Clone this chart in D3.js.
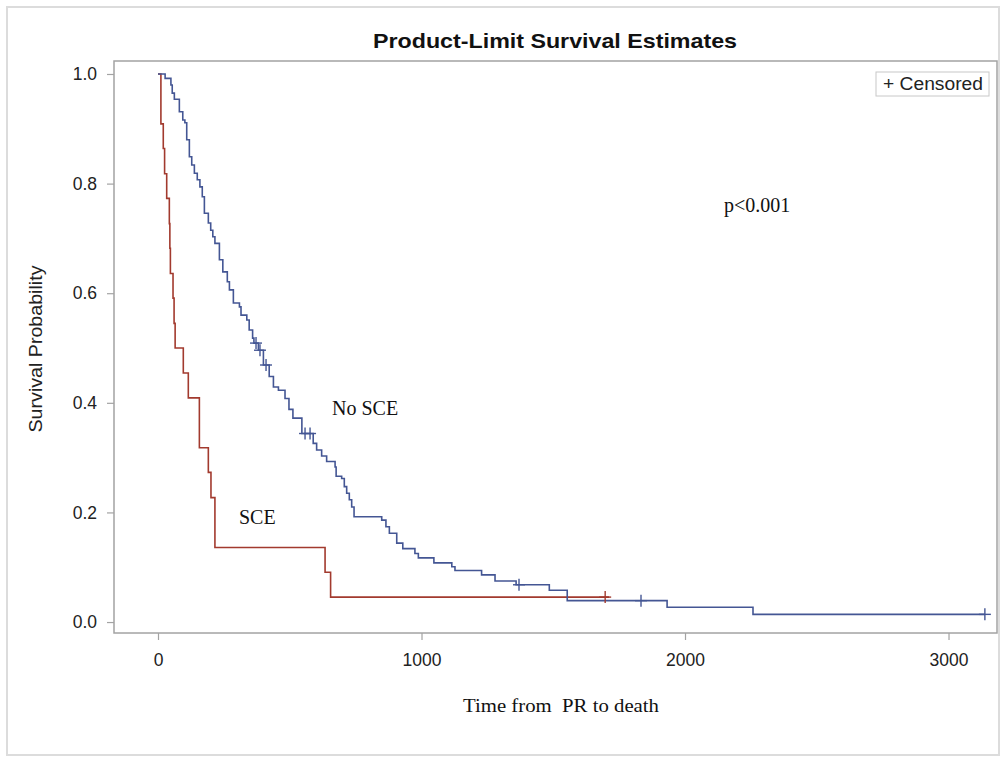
<!DOCTYPE html>
<html><head><meta charset="utf-8">
<script src="https://cdn.jsdelivr.net/npm/d3@7"></script>
<style>
html,body{margin:0;padding:0;background:#fff;}
svg{display:block;}
</style></head>
<body>
<script>
// ---- data ----
const sceTime = [0, 11, 20, 25, 33, 43, 45, 47, 57, 61, 65, 96, 115, 157, 191, 201, 216, 634, 655];
const sceSurv = [1, 0.909, 0.864, 0.818, 0.773, 0.727, 0.682, 0.636, 0.591, 0.545, 0.5, 0.4545, 0.409, 0.318, 0.273, 0.227, 0.136, 0.0909, 0.0455];
const sceEnd = 1712;
const sceCensored = [1697];

const noSceTime = [0, 27, 49, 54, 62, 81, 94, 102, 109, 119, 128, 138, 149, 159, 168, 176, 191, 200, 208, 216, 233,
  246, 263, 271, 286, 309, 315, 337, 346, 359, 364, 381, 400, 422, 438, 457, 482, 497, 512, 546,
  589, 602, 621, 640, 672, 676, 697, 707, 716, 726, 735, 744, 849, 865, 878, 906, 929, 975, 988,
  1047, 1115, 1127, 1228, 1279, 1359, 1485, 1553, 1932, 2258];
const noSceSurv = [1, 0.992, 0.980, 0.965, 0.954, 0.931, 0.916, 0.911, 0.880, 0.849, 0.834, 0.819, 0.807, 0.794, 0.776, 0.746, 0.728, 0.715, 0.703, 0.691, 0.661,
  0.639, 0.621, 0.606, 0.582, 0.575, 0.560, 0.551, 0.533, 0.518, 0.509, 0.496, 0.469, 0.448, 0.429, 0.423, 0.408, 0.388, 0.372, 0.344,
  0.326, 0.314, 0.303, 0.293, 0.283, 0.266, 0.262, 0.247, 0.235, 0.223, 0.210, 0.192, 0.186, 0.174, 0.162, 0.144, 0.134, 0.125, 0.117,
  0.108, 0.101, 0.094, 0.086, 0.075, 0.068, 0.058, 0.039, 0.027, 0.014];
const noSceEnd = 3138;
const noSceCensored = [372, 387, 410, 558, 577, 1370, 1833, 3138];

const xTicks = [0, 1000, 2000, 3000];
const yTicks = [0.0, 0.2, 0.4, 0.6, 0.8, 1.0];
const titleText = "Product-Limit Survival Estimates";
const xLabel = "Time from  PR to death";
const yLabel = "Survival Probability";
const legendText = "+ Censored";
const pText = "p<0.001";
const labelNoSce = "No SCE";
const labelSce = "SCE";

// ---- layout ----
const W = 1002, H = 759;
const box = {left: 114, top: 61, right: 997, bottom: 633};
const blue = "#445694", red = "#A23A2E";
const sans = "'Liberation Sans', Arial, sans-serif";
const serif = "'Liberation Serif', 'Times New Roman', serif";

const svg = d3.select("body").append("svg").attr("width", W).attr("height", H);

// outer frame
svg.append("rect").attr("x", 7).attr("y", 7).attr("width", 992).attr("height", 748)
  .attr("fill", "none").attr("stroke", "#dcdcdc").attr("stroke-width", 2);

const x = d3.scaleLinear().domain([-167, 3184]).range([box.left, box.right]);
const y = d3.scaleLinear().domain([-0.020, 1.0237]).range([box.bottom, box.top]);

// plot frame
svg.append("rect").attr("x", box.left).attr("y", box.top)
  .attr("width", box.right - box.left).attr("height", box.bottom - box.top)
  .attr("fill", "none").attr("stroke", "#a3a3a3").attr("stroke-width", 1.5);

// axes
const xAxis = d3.axisBottom(x).tickValues(xTicks).tickFormat(d3.format("d")).tickSize(7).tickPadding(14);
const yAxis = d3.axisLeft(y).tickValues(yTicks).tickFormat(d3.format(".1f")).tickSize(7).tickPadding(10);
const gx = svg.append("g").attr("transform", `translate(0,${box.bottom})`).call(xAxis);
const gy = svg.append("g").attr("transform", `translate(${box.left},0)`).call(yAxis);
[gx, gy].forEach(g => {
  g.select(".domain").remove();
  g.selectAll(".tick line").attr("stroke", "#a3a3a3").attr("stroke-width", 1.2);
  g.selectAll(".tick text").attr("fill", "#222").style("font-family", sans).style("font-size", "17.5px");
});

// step curves
function stepData(ts, ss, end) {
  const d = ts.map((t, i) => [t, ss[i]]);
  d.push([end, ss[ss.length - 1]]);
  return d;
}
function survAt(ts, ss, t) {
  let v = ss[0];
  for (let i = 0; i < ts.length; i++) if (ts[i] <= t) v = ss[i];
  return v;
}
const line = d3.line().x(d => x(d[0])).y(d => y(d[1])).curve(d3.curveStepAfter);

svg.append("path").datum(stepData(sceTime, sceSurv, sceEnd)).attr("d", line)
  .attr("fill", "none").attr("stroke", red).attr("stroke-width", 1.6);
svg.append("path").datum(stepData(noSceTime, noSceSurv, noSceEnd)).attr("d", line)
  .attr("fill", "none").attr("stroke", blue).attr("stroke-width", 1.6);

function censorMarks(times, ts, ss, color) {
  const g = svg.append("g").attr("stroke", color).attr("stroke-width", 1.4);
  times.forEach(t => {
    const cx = x(t), cy = y(survAt(ts, ss, t));
    g.append("line").attr("x1", cx - 6).attr("x2", cx + 6).attr("y1", cy).attr("y2", cy);
    g.append("line").attr("x1", cx).attr("x2", cx).attr("y1", cy - 6).attr("y2", cy + 6);
  });
}
censorMarks(sceCensored, sceTime, sceSurv, red);
censorMarks(noSceCensored, noSceTime, noSceSurv, blue);

// title
svg.append("text").attr("x", 555).attr("y", 48).attr("text-anchor", "middle")
  .style("font-family", sans).style("font-weight", "bold").style("font-size", "21px")
  .attr("textLength", 364).attr("lengthAdjust", "spacingAndGlyphs")
  .attr("fill", "#111").text(titleText);

// axis labels
svg.append("text").attr("x", 561).attr("y", 712).attr("text-anchor", "middle")
  .style("font-family", serif).style("font-size", "19px")
  .attr("textLength", 196).attr("lengthAdjust", "spacingAndGlyphs")
  .attr("fill", "#111").attr("xml:space", "preserve").style("white-space", "pre").text(xLabel);
svg.append("text").attr("transform", "translate(42,349) rotate(-90)").attr("text-anchor", "middle")
  .style("font-family", sans).style("font-size", "19px")
  .attr("textLength", 167).attr("lengthAdjust", "spacingAndGlyphs")
  .attr("fill", "#222").text(yLabel);

// annotations
svg.append("text").attr("x", 724).attr("y", 212).style("font-family", serif).style("font-size", "20px").attr("fill", "#111").text(pText);
svg.append("text").attr("x", 332).attr("y", 415).style("font-family", serif).style("font-size", "20px").attr("fill", "#111").text(labelNoSce);
svg.append("text").attr("x", 239).attr("y", 524).style("font-family", serif).style("font-size", "20px").attr("fill", "#111").text(labelSce);

// legend
svg.append("rect").attr("x", 876).attr("y", 72).attr("width", 113).attr("height", 24)
  .attr("fill", "#fff").attr("stroke", "#c8c8c8").attr("stroke-width", 1);
svg.append("text").attr("x", 933).attr("y", 90).attr("text-anchor", "middle")
  .style("font-family", sans).style("font-size", "18px")
  .attr("textLength", 100).attr("lengthAdjust", "spacingAndGlyphs")
  .attr("fill", "#222").text(legendText);
</script>
</body></html>
